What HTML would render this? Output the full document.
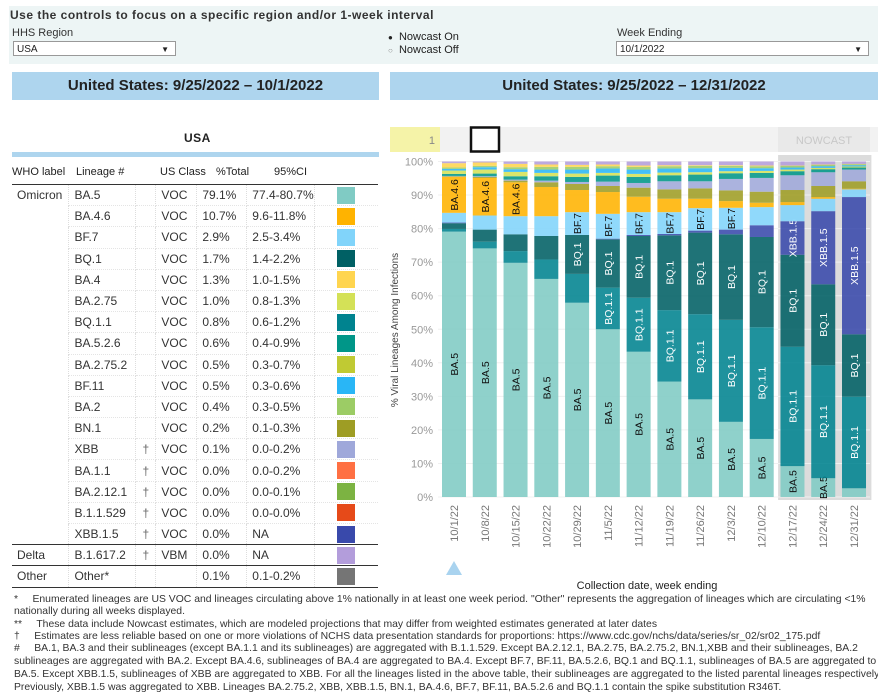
<!DOCTYPE html>
<html><head><meta charset="utf-8">
<style>
body{margin:0;width:878px;height:698px;background:#fff;font-family:"Liberation Sans",sans-serif;position:relative;overflow:hidden;color:#222}
.abs{position:absolute}
.ctrl{left:9px;top:6px;width:869px;height:58px;background:#edf5f5}
.sel{background:#fff;border:1px solid #999;height:15px;font-size:10px;line-height:15px;padding-left:3px;box-sizing:border-box}
.sel span{position:absolute;right:6px;top:0;font-size:8px}
.hdr{background:#aed5ee;height:28px;font-weight:bold;font-size:15px;text-align:center;line-height:28px;color:#222}
table{border-collapse:collapse;font-size:12px;color:#333}
td{height:21.2px;padding:0 0 0 5px;border-right:1px dotted #ddd;border-bottom:1px dotted #e4e4e4;white-space:nowrap;box-sizing:border-box}
.sw{display:inline-block;width:18px;height:17px;vertical-align:middle}
.fn{left:14px;font-size:10.4px;color:#333;white-space:nowrap;letter-spacing:0;transform-origin:0 0}
</style></head><body>
<div class="abs ctrl"></div>
<div class="abs" style="left:10px;top:8px;font-size:12px;font-weight:bold;letter-spacing:0.5px;color:#333">Use the controls to focus on a specific region and/or 1-week interval</div>
<div class="abs" style="left:12px;top:27px;font-size:11px;color:#333">HHS Region</div>
<div class="abs sel" style="left:13px;top:41px;width:163px">USA<span>▼</span></div>
<div class="abs" style="left:388px;top:31px;font-size:11px;line-height:12px;color:#222"><span><span style="font-size:8px">●</span>&nbsp; Nowcast On</span><br><span><span style="font-size:8px;color:#888">○</span>&nbsp; Nowcast Off</span></div>
<div class="abs" style="left:617px;top:27px;font-size:11px;color:#333">Week Ending</div>
<div class="abs sel" style="left:616px;top:41px;width:253px">10/1/2022<span>▼</span></div>

<div class="abs hdr" style="left:12px;top:72px;width:367px">United States: 9/25/2022 – 10/1/2022</div>
<div class="abs hdr" style="left:390px;top:72px;width:488px">United States: 9/25/2022 – 12/31/2022</div>

<div class="abs" style="left:184px;top:131px;font-size:12px;font-weight:bold;letter-spacing:0.5px">USA</div>
<div class="abs" style="left:12px;top:152px;width:367px;height:5px;background:#aed5ee"></div>
<div class="abs" style="left:12px;top:166px;font-size:11px;color:#222;width:370px">
<span class="abs" style="left:0">WHO label</span><span class="abs" style="left:64px">Lineage #</span><span class="abs" style="left:148px">US Class</span><span class="abs" style="left:204px">%Total</span><span class="abs" style="left:262px">95%CI</span></div>
<div class="abs" style="left:12px;top:184px">
<table id="tbl" style="width:366px;border-top:1.5px solid #333">
<colgroup><col style="width:57px"><col style="width:67px"><col style="width:20px"><col style="width:41px"><col style="width:50px"><col style="width:67px"><col style="width:64px"></colgroup>
<tbody id="tb"></tbody></table></div>

<svg class="abs" id="chart" style="left:0;top:0" width="878" height="698"></svg>

<div class="abs fn" style="top:594px">*&nbsp;&nbsp;&nbsp;&nbsp; Enumerated lineages are US VOC and lineages circulating above 1% nationally in at least one week period. "Other" represents the aggregation of lineages which are circulating &lt;1%</div>
<div class="abs fn" style="top:606px">nationally during all weeks displayed.</div>
<div class="abs fn" style="top:619px">**&nbsp;&nbsp;&nbsp;&nbsp; These data include Nowcast estimates, which are modeled projections that may differ from weighted estimates generated at later dates</div>
<div class="abs fn" style="top:631px">†&nbsp;&nbsp;&nbsp;&nbsp; Estimates are less reliable based on one or more violations of NCHS data presentation standards for proportions: https://www.cdc.gov/nchs/data/series/sr_02/sr02_175.pdf</div>
<div class="abs fn" style="top:643px">#&nbsp;&nbsp;&nbsp;&nbsp; BA.1, BA.3 and their sublineages (except BA.1.1 and its sublineages) are aggregated with B.1.1.529. Except BA.2.12.1, BA.2.75, BA.2.75.2, BN.1,XBB and their sublineages, BA.2</div>
<div class="abs fn" style="top:656px">sublineages are aggregated with BA.2. Except BA.4.6, sublineages of BA.4 are aggregated to BA.4. Except BF.7, BF.11, BA.5.2.6, BQ.1 and BQ.1.1, sublineages of BA.5 are aggregated to</div>
<div class="abs fn" style="top:669px">BA.5. Except XBB.1.5, sublineages of XBB are aggregated to XBB. For all the lineages listed in the above table, their sublineages are aggregated to the listed parental lineages respectively.</div>
<div class="abs fn" style="top:682px">Previously, XBB.1.5 was aggregated to XBB. Lineages BA.2.75.2, XBB, XBB.1.5, BN.1, BA.4.6, BF.7, BF.11, BA.5.2.6 and BQ.1.1 contain the spike substitution R346T.</div>

<script>
const tWho=["Omicron","","","","","","","","","","","","","","","","","Delta","Other"];
const tLin=["BA.5","BA.4.6","BF.7","BQ.1","BA.4","BA.2.75","BQ.1.1","BA.5.2.6","BA.2.75.2","BF.11","BA.2","BN.1","XBB","BA.1.1","BA.2.12.1","B.1.1.529","XBB.1.5","B.1.617.2","Other*"];
const tDag=["","","","","","","","","","","","","†","†","†","†","†","†",""];
const tCls=["VOC","VOC","VOC","VOC","VOC","VOC","VOC","VOC","VOC","VOC","VOC","VOC","VOC","VOC","VOC","VOC","VOC","VBM",""];
const tPct=["79.1%","10.7%","2.9%","1.7%","1.3%","1.0%","0.8%","0.6%","0.5%","0.5%","0.4%","0.2%","0.1%","0.0%","0.0%","0.0%","0.0%","0.0%","0.1%"];
const tCI=["77.4-80.7%","9.6-11.8%","2.5-3.4%","1.4-2.2%","1.0-1.5%","0.8-1.3%","0.6-1.2%","0.4-0.9%","0.3-0.7%","0.3-0.6%","0.3-0.5%","0.1-0.3%","0.0-0.2%","0.0-0.2%","0.0-0.1%","0.0-0.0%","NA","NA","0.1-0.2%"];
const tCol=["#80cbc4","#ffb300","#81d4fa","#006064","#ffd54f","#d4e157","#00838f","#009688","#c0ca33","#29b6f6","#9ccc65","#9e9d24","#9fa8da","#ff7043","#7cb342","#e64a19","#3949ab","#b39ddb","#757575"];
const tb=document.getElementById('tb');
tLin.forEach((l,i)=>{
  const tr=document.createElement('tr');
  
  
  if(i===17||i===18) tr.style.borderTop='1.5px solid #333';
  if(i===18) tr.style.borderBottom='1.5px solid #333';
  tr.innerHTML='<td>'+tWho[i]+'</td><td>'+l+'</td><td style="color:#666;text-align:center;padding:0">'+tDag[i]+'</td><td>'+tCls[i]+'</td><td>'+tPct[i]+'</td><td>'+tCI[i]+'</td><td style="text-align:center;padding:0;border-right:none"><span class="sw" style="background:'+tCol[i]+'"></span></td>';
  tb.appendChild(tr);
});
tb.querySelectorAll('tr').forEach((tr,i)=>{ if(i<16) tr.children[0].style.borderBottom='none'; });
</script>
<script>
const weeks=["10/1/22","10/8/22","10/15/22","10/22/22","10/29/22","11/5/22","11/12/22","11/19/22","11/26/22","12/3/22","12/10/22","12/17/22","12/24/22","12/31/22"];
const yTicks=[0,10,20,30,40,50,60,70,80,90,100];
const seriesNames=["BA.5","BQ.1.1","BQ.1","XBB.1.5","BF.7","BA.4.6","BN.1","XBB","BA.5.2.6","BA.2.75","BF.11","BA.2","BA.4","Other"];
const vBA5   =[79.1,74.1,69.8,65.0,57.9,50.0,43.3,34.4,29.1,22.4,17.3,9.2,5.6,2.6];
const vBQ11  =[0.8,2.0,3.5,5.8,8.6,12.4,16.1,21.3,25.4,30.4,33.3,35.6,33.7,27.3];
const vBQ1   =[1.7,3.6,5.0,7.0,11.6,14.4,18.4,22.3,24.3,25.5,26.9,27.4,24.1,18.6];
const vXBB15 =[0.2,0,0,0,0,0.2,0.3,0.4,0.6,1.4,3.5,10.0,21.8,40.9];
const vBF7   =[2.9,4.2,5.4,5.9,6.8,7.4,6.8,6.5,6.7,6.5,5.4,4.8,3.7,2.3];
const vBA46  =[10.7,11.2,10.1,8.7,6.6,6.5,4.6,4.0,2.8,2.0,1.3,0.9,0.5,0.2];
const vBN1   =[0.2,0.3,0.5,1.4,1.8,1.8,2.7,2.8,3.1,3.2,3.3,3.6,3.3,2.2];
const vXBB   =[0.1,0.2,0.3,0.5,0.6,1.3,1.4,2.4,2.1,3.4,4.1,4.4,4.1,3.5];
const vBA526 =[0.6,0.8,1.0,1.3,1.5,1.8,1.8,1.8,2.0,1.7,1.5,1.2,0.9,0.6];
const vBA275 =[1.0,1.2,1.3,1.0,1.0,0.8,0.9,0.8,0.7,0.6,0.6,0.5,0.4,0.3];
const vBF11  =[0.5,0.7,0.8,1.0,1.2,1.3,1.3,1.2,1.2,1.0,0.8,0.6,0.5,0.4];
const vBA2   =[0.4,0.4,0.6,0.8,0.8,0.7,0.8,0.7,0.7,0.6,0.6,0.5,0.4,0.3];
const vBA4   =[1.3,1.0,1.0,0.7,0.6,0.5,0.4,0.3,0.2,0.2,0.2,0.1,0.1,0.1];
const vOther =[0.5,0.3,0.7,0.9,1.0,0.9,1.2,1.1,1.1,1.1,1.2,1.2,0.9,0.7];
const nowcastStart=11;

const seriesVals=[vBA5,vBQ11,vBQ1,vXBB15,vBF7,vBA46,vBN1,vXBB,vBA526,vBA275,vBF11,vBA2,vBA4,vOther];
const seriesCol=["#80cbc4","#00838f","#006064","#3949ab","#81d4fa","#ffb300","#9e9d24","#9fa8da","#009688","#d4e157","#29b6f6","#9ccc65","#ffd54f","#b39ddb"];
const labelMin=[5,9,9,9,6.3,10,99,99,99,99,99,99,99,99];
const labelDark=[true,false,false,false,true,true];

const NS='http://www.w3.org/2000/svg';
const svg=document.getElementById('chart');
function mk(t,a,p){const e=document.createElementNS(NS,t);for(const k in a)e.setAttribute(k,a[k]);(p||svg).appendChild(e);return e;}
const y0=497,y1=161.5;
const yS=v=>y0-(y0-y1)*v/100;
const bx0=454,bstep=30.77,bw=24;
const xS=i=>bx0+bstep*i;

const strip=mk('rect',{x:390,y:127,width:488,height:25,fill:'#f2f2f2'});


const ybox=mk('rect',{x:390,y:127,width:50,height:25,fill:'#f5f3a8'});


const yt=mk('text',{x:435,y:144,'font-size':11,fill:'#888','text-anchor':'end'});yt.textContent='1';


const sq=mk('rect',{x:471,y:127.5,width:28,height:24,fill:'#fff',stroke:'#111','stroke-width':2.5});


const nb=mk('rect',{x:778,y:127,width:92,height:25,fill:'#e9e9e9'});


const nt=mk('text',{x:824,y:144,'font-size':11,fill:'#c8c8c8','text-anchor':'middle'});nt.textContent='NOWCAST';



const ns=mk('rect',{x:xS(nowcastStart)-bstep/2+1,y:155,width:bstep*(weeks.length-nowcastStart)+1,height:y0-155+3,fill:'#dcdcdc'});



yTicks.forEach(t=>{
  const g=mk('line',{x1:438,x2:870,y1:yS(t),y2:yS(t),stroke:'#f0f0f0','stroke-width':1});
  
  
  const tx=mk('text',{x:433,y:yS(t)+4,'font-size':11,fill:'#999','text-anchor':'end'});
  tx.textContent=t+'%';
  
  
});
const yTitle=mk('text',{x:0,y:0,'font-size':10,fill:'#444','text-anchor':'middle',transform:'translate(398,330) rotate(-90)'});
yTitle.textContent='% Viral Lineages Among Infections';



weeks.forEach((w,i)=>{
  let cum=0;
  const cx=xS(i);
  seriesVals.forEach((arr,s)=>{
    const v=arr[i];
    if(v<=0){return;}
    const yt=yS(cum+v),yb=yS(cum);
    const r=mk('rect',{x:cx-bw/2,y:yt,width:bw,height:Math.max(0,yb-yt),fill:seriesCol[s],'fill-opacity':0.88});
    
    
    if(v>=labelMin[s]){
      const my=(yt+yb)/2;
      const lt=mk('text',{x:0,y:0,'font-size':10.5,fill:labelDark[s]?'#111':'#fff','text-anchor':'middle',transform:'translate('+(cx+4)+','+my+') rotate(-90)'});
      lt.textContent=seriesNames[s];
      
      
    }
    cum+=v;
  });
  const xl=mk('text',{x:0,y:0,'font-size':11,fill:'#777','text-anchor':'end',transform:'translate('+(cx+4)+',505) rotate(-90)'});
  xl.textContent=w;
  
  
});
const tri=mk('polygon',{points:(xS(0)-8)+',575 '+(xS(0)+8)+',575 '+xS(0)+',561',fill:'#a9d3ef'});


const xTitle=mk('text',{x:647,y:589,'font-size':11,fill:'#222','text-anchor':'middle'});
xTitle.textContent='Collection date, week ending';


</script>
</body></html>
